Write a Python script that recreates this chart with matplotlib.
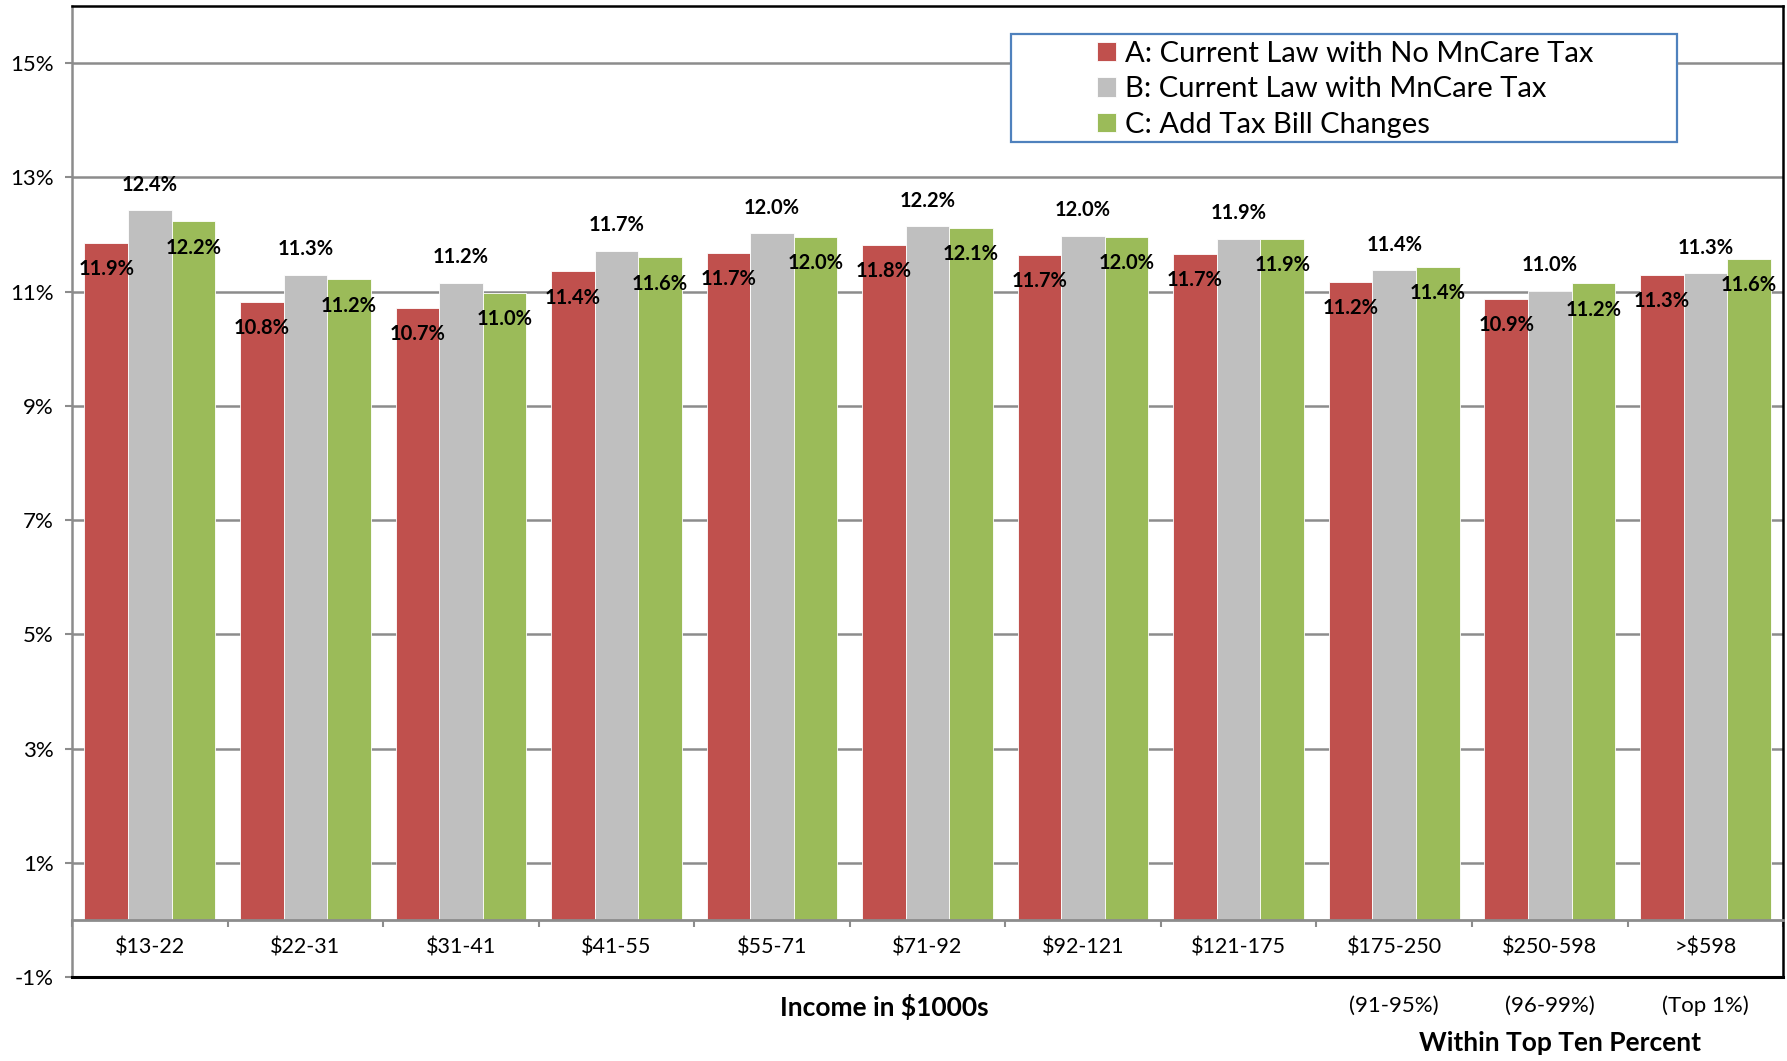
import numpy as np
import matplotlib
matplotlib.use("Agg")
import matplotlib.pyplot as plt
from matplotlib.patches import Rectangle
from matplotlib.transforms import blended_transform_factory

plt.rcParams['font.family'] = ['Lato', 'DejaVu Sans']

# income brackets ($1000s)
categories = ["$13-22", "$22-31", "$31-41", "$41-55", "$55-71", "$71-92",
              "$92-121", "$121-175", "$175-250", "$250-598", ">$598"]
series_names = ["A: Current Law with No MnCare Tax",
                "B: Current Law with MnCare Tax",
                "C: Add Tax Bill Changes"]
# effective tax rate, %
rate_a = [11.86, 10.82, 10.72, 11.36, 11.68, 11.82, 11.65, 11.66, 11.17, 10.88, 11.30]
rate_b = [12.43, 11.30, 11.16, 11.72, 12.02, 12.15, 11.98, 11.93, 11.38, 11.02, 11.33]
rate_c = [12.23, 11.22, 10.98, 11.60, 11.96, 12.12, 11.96, 11.93, 11.44, 11.15, 11.58]
sub_notes = ["(91-95%)", "(96-99%)", "(Top 1%)"]
y_ticks = [-1, 1, 3, 5, 7, 9, 11, 13, 15]

colors = ["#C0504D", "#BFBFBF", "#9BBB59"]

fig = plt.figure(figsize=(17.87, 10.61), dpi=100)
ax = fig.add_axes([0.0403, 0.0792, 0.9575, 0.915])

x = np.arange(len(categories))
w = 0.28
all_rates = [rate_a, rate_b, rate_c]
bars = []
for i, (vals, col, name) in enumerate(zip(all_rates, colors, series_names)):
    b = ax.bar(x + (i - 1) * w, vals, width=w, color=col, label=name,
               edgecolor="white", linewidth=0.6, zorder=3)
    bars.append(b)

# data labels: A and C just inside the top, B above
for i, (b, vals) in enumerate(zip(bars, all_rates)):
    for rect, v in zip(b, vals):
        cx = rect.get_x() + rect.get_width() / 2
        if i == 1:
            ax.annotate(f"{v:.1f}%", (cx, v), xytext=(0, 11), textcoords="offset points",
                        ha="center", va="bottom", fontsize=14.5, fontweight="bold", zorder=5)
        else:
            ax.annotate(f"{v:.1f}%", (cx, v), xytext=(0, -19), textcoords="offset points",
                        ha="center", va="center", fontsize=14.5, fontweight="bold", zorder=5)

ax.set_xlim(-0.5, len(categories) - 0.5)
ax.set_ylim(-1, 16)
ax.set_yticks(y_ticks)
ax.set_yticklabels([f"{t}%" for t in y_ticks])
ax.yaxis.grid(True, color="#8C8C8C", linewidth=1.8, zorder=0)
ax.set_axisbelow(True)

ax.set_xticks(x)
ax.set_xticklabels(categories)
ax.set_xticks(np.arange(-0.5, len(categories)), minor=True)
ax.tick_params(axis="x", which="major", length=0, pad=13, labelsize=15.5)
ax.tick_params(axis="x", which="minor", length=5, width=1.5, color="#8C8C8C", direction="out")
ax.tick_params(axis="y", length=5, width=1.5, color="#8C8C8C", pad=8, labelsize=16)

ax.spines["bottom"].set_position(("data", 0))
ax.spines["bottom"].set_color("#8C8C8C")
ax.spines["bottom"].set_linewidth(2)
ax.spines["bottom"].set_zorder(4)
ax.spines["left"].set_color("#8C8C8C")
ax.spines["left"].set_linewidth(1.8)
for s in ["top", "right"]:
    ax.spines[s].set_color("black")
    ax.spines[s].set_linewidth(1.8)
ax.axhline(-1, color="black", linewidth=2.2, clip_on=False, zorder=4)

# legend box
ax.add_patch(Rectangle((0.549, 0.86), 0.389, 0.111, transform=ax.transAxes,
                       facecolor="white", edgecolor="#4F81BD", linewidth=1.6, zorder=6))
leg = ax.legend(loc="upper left", bbox_to_anchor=(0.5925, 0.9765), frameon=False,
                fontsize=21, handlelength=0.65, handleheight=0.65, handletextpad=0.3,
                labelspacing=0.33, borderaxespad=0)
leg.set_zorder(7)

fig.text(0.495, 0.051, "Income in $1000s", ha="center", va="center",
         fontsize=19, fontweight="bold")
trans = blended_transform_factory(ax.transData, fig.transFigure)
for xi, note in zip([8, 9, 10], sub_notes):
    ax.text(xi, 0.052, note, transform=trans, ha="center", va="center", fontsize=16)
fig.text(0.873, 0.017, "Within Top Ten Percent", ha="center", va="center",
         fontsize=19, fontweight="bold")

fig.savefig("out.png", dpi=100)
